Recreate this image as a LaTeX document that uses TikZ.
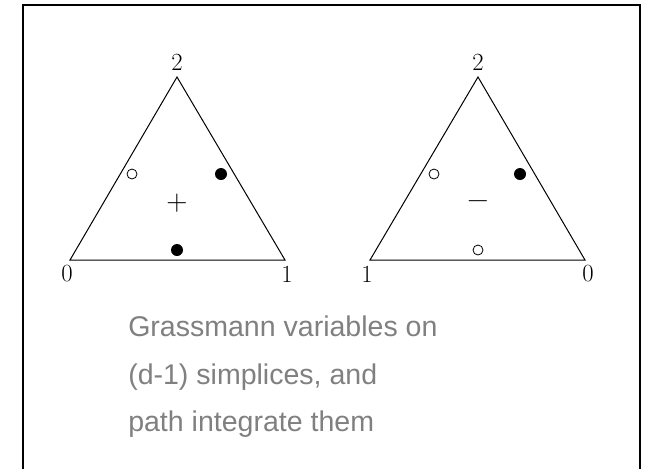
\documentclass[tikz,border=0pt]{standalone}
\usepackage{fontspec}
\usepackage{xcolor}
\newfontfamily\notefont{Liberation Sans}
\definecolor{notegray}{RGB}{128,128,128}

\begin{document}
\begin{tikzpicture}[x=0.75pt,y=-0.75pt,
  vlab/.style={inner sep=0pt,font=\fontsize{18.5}{20}\selectfont},
  sgn/.style={inner sep=0pt,font=\fontsize{22}{24}\selectfont},
  fulldot/.style={circle,fill=black,inner sep=0pt,minimum size=9pt},
  opendot/.style={circle,draw=black,line width=0.6pt,fill=white,inner sep=0pt,minimum size=7.5pt}]
\useasboundingbox (0,0) rectangle (654,469);
% frame, open at the bottom
\draw[line width=1.5pt] (23,469) -- (23,5) -- (640,5) -- (640,469);
% 1st simplex (+)
\coordinate (p0) at (70,260);
\coordinate (p1) at (285,260);
\coordinate (p2) at (177,77);
\draw[line width=0.75pt] (p0) -- (p1) -- (p2) -- cycle;
\node[vlab] (lp0) at (67,274) {0};
\node[vlab] (lp1) at (287,274) {1};
\node[vlab] (lp2) at (177,62) {2};
\node[opendot] (p02) at (132,174) {};
\node[fulldot] (p12) at (221,174) {};
\node[fulldot] (p01) at (177,250) {};
\node[sgn] (psgn) at (177,203) {+};
% 2nd simplex (-)
\coordinate (m1) at (370,260);
\coordinate (m0) at (585,260);
\coordinate (m2) at (478,77);
\draw[line width=0.75pt] (m1) -- (m0) -- (m2) -- cycle;
\node[vlab] (lm1) at (367,274) {1};
\node[vlab] (lm0) at (588,274) {0};
\node[vlab] (lm2) at (478,62) {2};
\node[opendot] (m12) at (434,174) {};
\node[fulldot] (m02) at (520,174) {};
\node[opendot] (m01) at (478,250) {};
\node[sgn] (msgn) at (478,205) {−};
% note
\node[anchor=north west,inner sep=0pt,align=left,text=notegray,
  font=\notefont\fontsize{21.4}{35.6}\selectfont] (note) at (128,316)
  {Grassmann variables on\\(d-1) simplices, and\\path integrate them};
\end{tikzpicture}
\end{document}
